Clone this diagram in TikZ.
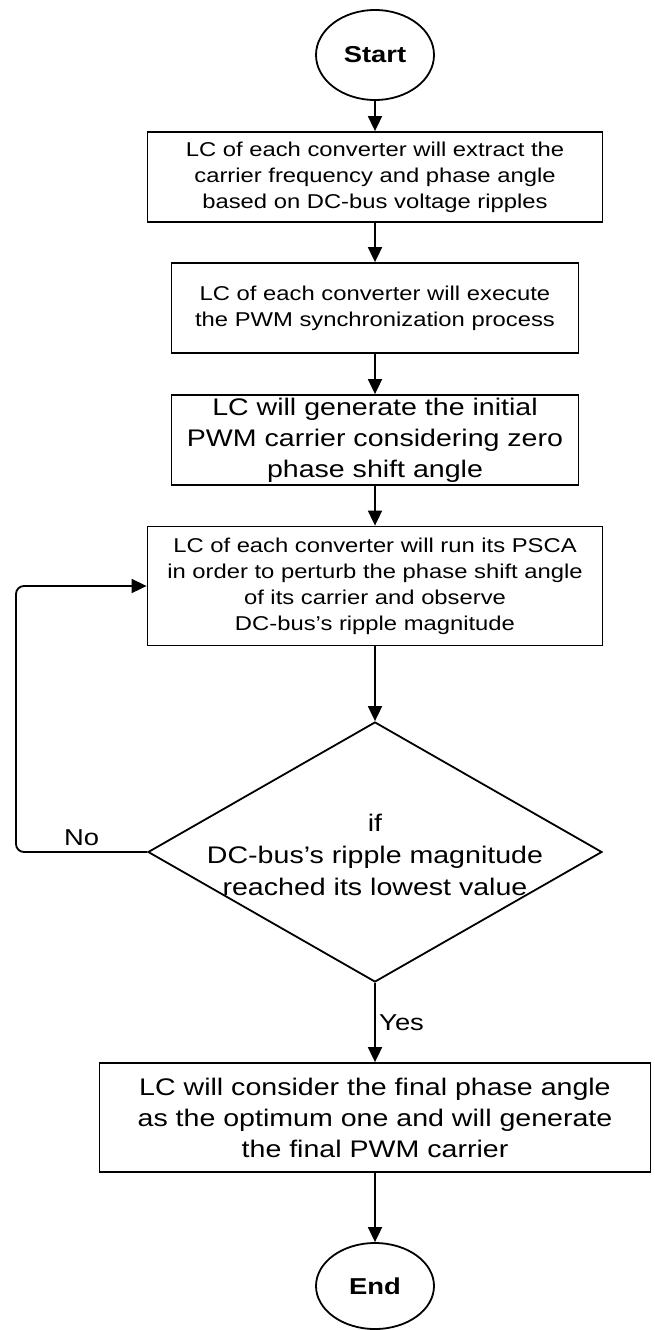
\documentclass[tikz,border=0pt]{standalone}
\usepackage{fontspec}
\setmainfont[FakeStretch=1.19]{Liberation Sans}
\usetikzlibrary{arrows.meta}
\usetikzlibrary{shapes.geometric}

\begin{document}
\begin{tikzpicture}[x=1pt,y=-1pt,
    flow/.style={line width=1.8pt, -{Triangle[length=15pt,width=14pt]}},
    terminal/.style={draw, line width=1.8pt, ellipse, minimum width=118pt, minimum height=90pt, inner sep=0pt, font=\fontsize{23}{28}\selectfont\bfseries},
    stepbox/.style={draw, line width=1.8pt, rectangle, inner sep=0pt, align=center, font=\fontsize{20}{26}\selectfont},
    bigbox/.style={stepbox, font=\fontsize{24}{31}\selectfont},
    answer/.style={font=\fontsize{23}{28}\selectfont}]
      % page size
      \useasboundingbox (0,0) rectangle (654,1330);

      % start and end
      \node[terminal] (start) at (375,55) {Start};
      \node[terminal, minimum height=86pt] (end) at (375,1286) {End};

      % process steps
      \node[stepbox, minimum width=455pt, minimum height=90pt] (extract) at (375,177) {LC of each converter will extract the\\carrier frequency and phase angle\\based on DC-bus voltage ripples};
      \node[stepbox, minimum width=407pt, minimum height=90pt] (sync) at (375,308) {LC of each converter will execute\\the PWM synchronization process};
      \node[bigbox, minimum width=407pt, minimum height=90pt] (initial) at (375,440) {LC will generate the initial\\PWM carrier considering zero\\phase shift angle};
      \node[stepbox, minimum width=455pt, minimum height=119pt] (psca) at (375,586) {LC of each converter will run its PSCA\\in order to perturb the phase shift angle\\of its carrier and observe\\DC-bus’s ripple magnitude};

      % decision
      \node[draw, line width=1.8pt, diamond, minimum width=454pt, minimum height=260pt, inner sep=0pt] (check) at (375,852) {};
      \node[font=\fontsize{24}{32}\selectfont, align=center] (checktext) at (375,855) {if\\DC-bus’s ripple magnitude\\reached its lowest value};

      % final step
      \node[bigbox, minimum width=551pt, minimum height=109pt] (final) at (375,1117.5) {LC will consider the final phase angle\\as the optimum one and will generate\\the final PWM carrier};

      % connectors
      \draw[flow] (start) -- (extract);
      \draw[flow] (extract) -- (sync);
      \draw[flow] (sync) -- (initial);
      \draw[flow] (initial) -- (psca);
      \draw[flow] (psca) -- (check);
      \draw[flow] (check) -- node[answer, right] (yes) {Yes} (final);
      \draw[flow] (final) -- (end);

      % feedback loop
      \coordinate (loopleft) at (16,852);
      \draw[flow, rounded corners=8pt] (check.west) -- node[answer, above=2pt] (no) {No} (loopleft) |- (psca.west);
    \end{tikzpicture}
\end{document}
